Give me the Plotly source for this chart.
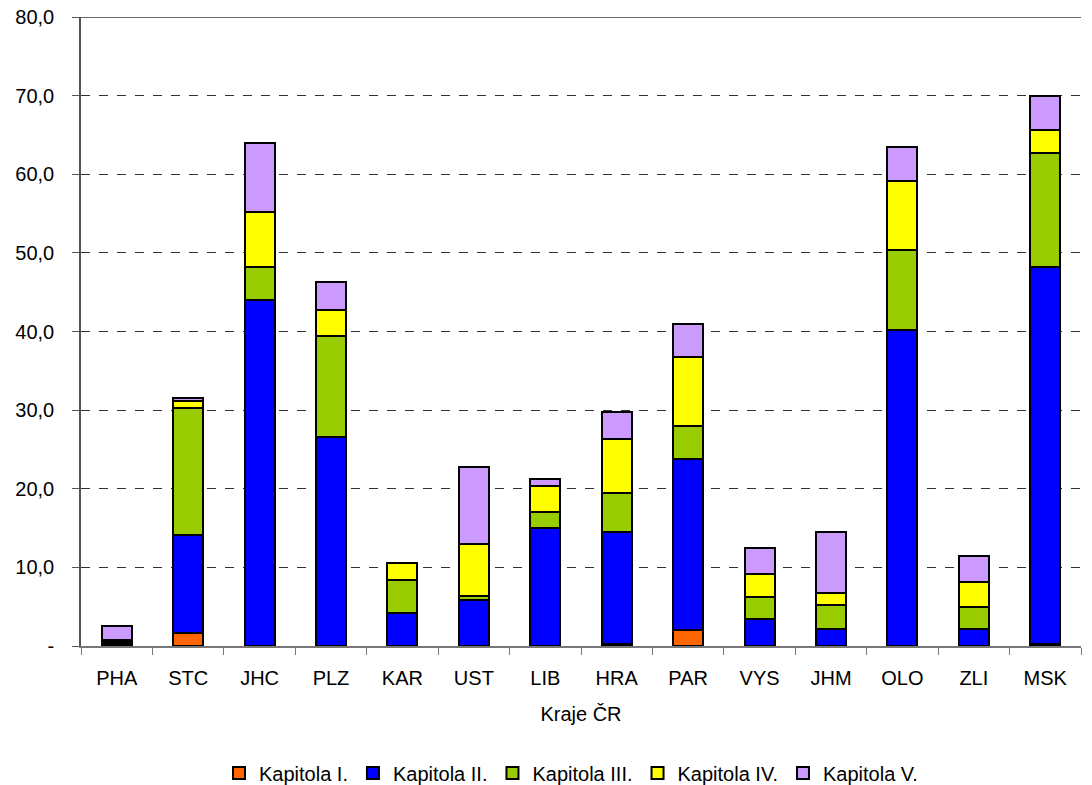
import plotly.graph_objects as go

regions = ["PHA", "STC", "JHC", "PLZ", "KAR", "UST", "LIB", "HRA", "PAR", "VYS", "JHM", "OLO", "ZLI", "MSK"]
kap1 = [0.1, 1.7, 0.0, 0.0, 0.0, 0.0, 0.0, 0.3, 2.0, 0.0, 0.0, 0.0, 0.0, 0.2]
kap2 = [0.3, 12.4, 44.0, 26.6, 4.2, 5.9, 15.0, 14.2, 21.8, 3.4, 2.2, 40.2, 2.2, 48.0]
kap3 = [0.2, 16.2, 4.2, 12.8, 4.2, 0.4, 2.0, 5.0, 4.2, 2.8, 3.0, 10.2, 2.7, 14.5]
kap4 = [0.2, 0.9, 7.0, 3.3, 2.2, 6.7, 3.4, 6.8, 8.8, 2.9, 1.5, 8.7, 3.2, 2.9]
kap5 = [1.8, 0.4, 8.8, 3.6, 0.0, 9.8, 0.8, 3.4, 4.2, 3.4, 7.8, 4.4, 3.3, 4.3]

series_names = ["Kapitola I.", "Kapitola II.", "Kapitola III.", "Kapitola IV.", "Kapitola V."]
series_vals = [kap1, kap2, kap3, kap4, kap5]
colors = ["#FF6600", "#0000FF", "#99CC00", "#FFFF00", "#CC99FF"]

y_tickvals = [0, 10, 20, 30, 40, 50, 60, 70, 80]
y_ticktext = ["-", "10,0", "20,0", "30,0", "40,0", "50,0", "60,0", "70,0", "80,0"]

fig = go.Figure()
for name, vals, col in zip(series_names, series_vals, colors):
    fig.add_trace(go.Bar(
        x=regions, y=vals, name=name,
        marker=dict(color=col, line=dict(color="black", width=2)),
        width=0.42,
    ))

font = "Liberation Sans, Arial, sans-serif"
fig.update_layout(
    barmode="stack",
    width=1092, height=785,
    margin=dict(l=81, r=11, t=17, b=139, autoexpand=False),
    paper_bgcolor="white", plot_bgcolor="white",
    font=dict(family=font, size=20, color="black"),
    showlegend=True,
    legend=dict(orientation="h", x=0.49, xanchor="center", y=-0.202, yanchor="middle",
                traceorder="normal", font=dict(size=20), itemwidth=30,
                tracegroupgap=0),
    xaxis=dict(
        automargin=False,
        showline=True, linecolor="#777", linewidth=1.5,
        ticks="outside", ticklen=7, tickcolor="#777", tickson="boundaries",
        showgrid=False,
        ticklabelstandoff=13,
        title=dict(text="Kraje ČR", font=dict(size=20), standoff=19),
        tickfont=dict(size=20),
    ),
    yaxis=dict(
        automargin=False,
        range=[0, 80],
        tickvals=y_tickvals, ticktext=y_ticktext,
        showline=True, linecolor="#555", linewidth=1.5,
        ticks="outside", ticklen=7, tickcolor="#555",
        ticklabelstandoff=14, ticklabeloverflow="allow",
        showgrid=True, gridcolor="#333", gridwidth=1, griddash="dash",
        zeroline=False,
        tickfont=dict(size=20),
    ),
)
fig.add_shape(type="line", xref="paper", yref="y", x0=0, x1=1, y0=80, y1=80,
              line=dict(color="#333", width=1.5))

fig.write_html("out.html",
               config={"displayModeBar": False},
               post_script="document.body.style.margin='0';document.body.style.overflow='hidden';")
